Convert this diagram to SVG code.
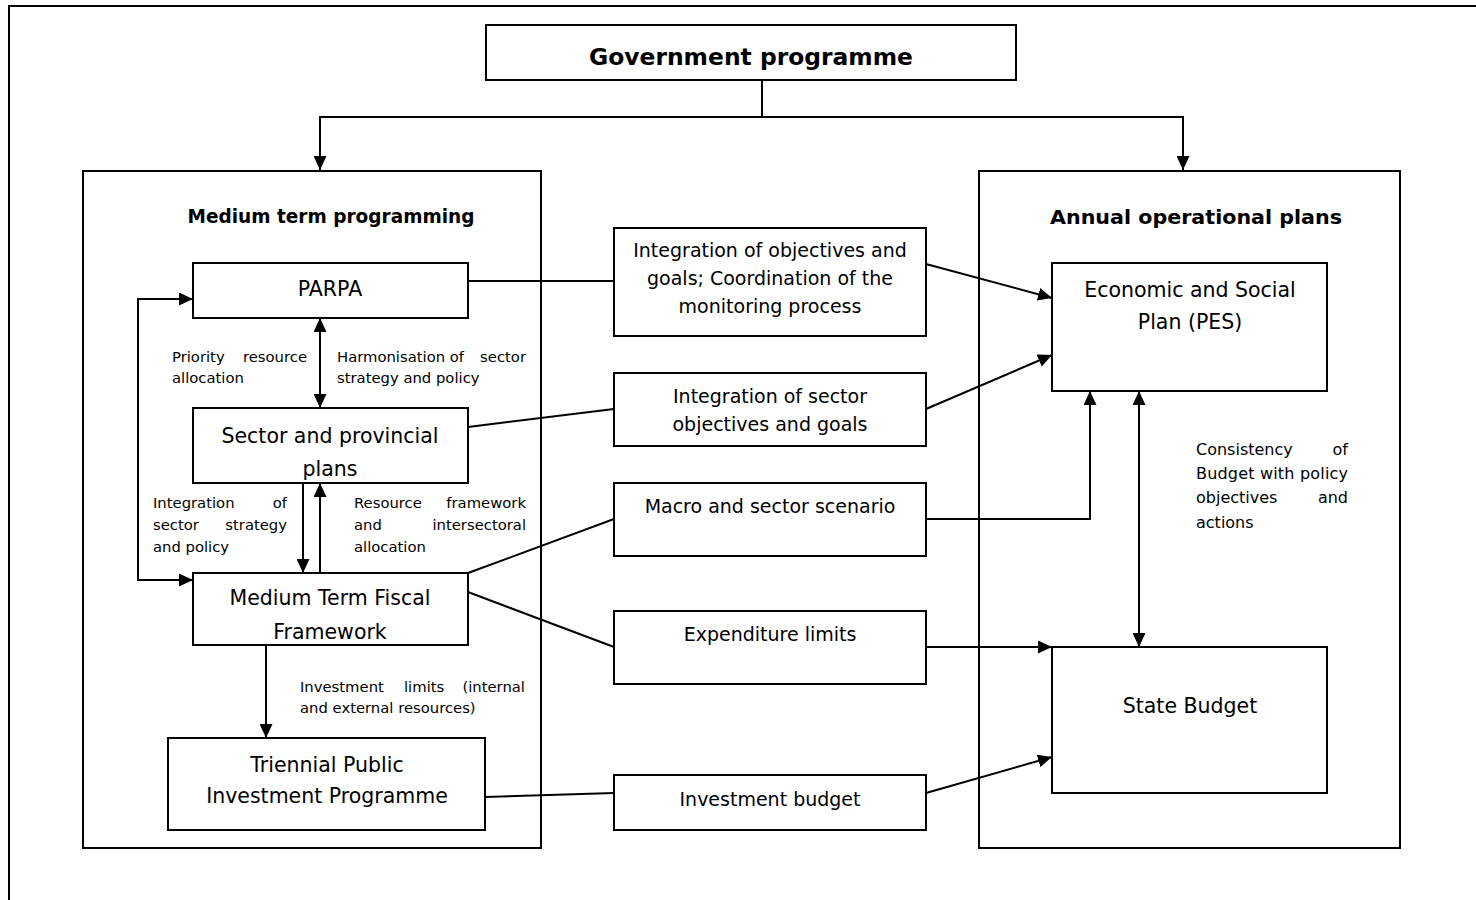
<svg xmlns="http://www.w3.org/2000/svg" width="1476" height="900" viewBox="0 0 1476 900">
<style>
.b{fill:#fff;stroke:#000;stroke-width:2}
.k{fill:none;stroke:#000;stroke-width:2}
.c{fill:none;stroke:#000;stroke-width:2}
.a{marker-end:url(#ah)}
.d{marker-start:url(#ah);marker-end:url(#ah)}
text{font-family:"DejaVu Sans","Liberation Sans",sans-serif;fill:#000}
.t{font-size:20.5px;text-anchor:middle}
.m{font-size:19px;text-anchor:middle}
.s{font-size:14.8px}
.r{font-size:16px}
.h{font-weight:bold;text-anchor:middle}
</style>
<defs>
<marker id="ah" markerUnits="userSpaceOnUse" markerWidth="14" markerHeight="13" refX="14" refY="6.5" orient="auto-start-reverse" viewBox="0 0 14 13">
<path d="M0,0 L14,6.5 L0,13 z" fill="#000"/>
</marker>
<clipPath id="clipSector"><rect x="194" y="409" width="273" height="72"/></clipPath>
</defs>
<rect width="1476" height="900" fill="#fff"/>
<path class="k" d="M9,900 V6 H1476"/>
<g id="medium-term">
<rect class="k" x="83" y="171" width="458" height="677"/>
<text class="h" x="331" y="223" font-size="19" textLength="287" lengthAdjust="spacingAndGlyphs">Medium term programming</text>
</g>
<g id="annual-plans">
<rect class="k" x="979" y="171" width="421" height="677"/>
<text class="h" x="1196" y="224" font-size="19" textLength="292" lengthAdjust="spacingAndGlyphs">Annual operational plans</text>
</g>
<g id="connectors">
<path class="c a" d="M762,80 V117 H320 V170"/>
<path class="c a" d="M762,117 H1183 V170"/>
<path class="c d" d="M193,299 H138 V580 H193"/>
<path class="c d" d="M320,318 V408"/>
<path class="c a" d="M303,483 V573"/>
<path class="c a" d="M320,573 V483"/>
<path class="c a" d="M266,645 V738"/>
<path class="c" d="M468,281 H614"/>
<path class="c a" d="M926,264 L1052,298"/>
<path class="c" d="M468,427 L614,409"/>
<path class="c a" d="M926,409 L1052,355"/>
<path class="c" d="M468,573 L614,519"/>
<path class="c a" d="M926,519 H1090 V391"/>
<path class="c" d="M468,592 L614,647"/>
<path class="c a" d="M926,647 H1052"/>
<path class="c" d="M485,797 L614,793"/>
<path class="c a" d="M926,793 L1052,757"/>
<path class="c d" d="M1139,391 V647"/>
<text class="s" y="362"><tspan x="172">Priority</tspan> <tspan x="307" text-anchor="end">resource</tspan></text>
<text class="s" x="172" y="383">allocation</text>
<text class="s" y="362"><tspan x="337">Harmonisation of</tspan> <tspan x="526" text-anchor="end">sector</tspan></text>
<text class="s" x="337" y="383">strategy and policy</text>
<text class="s" y="508"><tspan x="153">Integration</tspan> <tspan x="287" text-anchor="end">of</tspan></text>
<text class="s" y="530"><tspan x="153">sector</tspan> <tspan x="287" text-anchor="end">strategy</tspan></text>
<text class="s" x="153" y="552">and policy</text>
<text class="s" y="508"><tspan x="354">Resource</tspan> <tspan x="526" text-anchor="end">framework</tspan></text>
<text class="s" y="530"><tspan x="354">and</tspan> <tspan x="526" text-anchor="end">intersectoral</tspan></text>
<text class="s" x="354" y="552">allocation</text>
<text class="s" y="692"><tspan x="300">Investment</tspan> <tspan x="404">limits</tspan> <tspan x="525" text-anchor="end">(internal</tspan></text>
<text class="s" x="300" y="713">and external resources)</text>
<text class="r" y="455"><tspan x="1196">Consistency</tspan> <tspan x="1348" text-anchor="end">of</tspan></text>
<text class="r" x="1196" y="479" textLength="152" lengthAdjust="spacing">Budget with policy</text>
<text class="r" y="503"><tspan x="1196">objectives</tspan> <tspan x="1348" text-anchor="end">and</tspan></text>
<text class="r" x="1196" y="528">actions</text>
</g>
<g id="government-programme">
<rect class="b" x="486" y="25" width="530" height="55"/>
<text class="h" x="751" y="65" font-size="23" textLength="324" lengthAdjust="spacingAndGlyphs">Government programme</text>
</g>
<g id="parpa">
<rect class="b" x="193" y="263" width="275" height="55"/>
<text class="t" x="330" y="296">PARPA</text>
</g>
<g id="sector-plans">
<rect class="b" x="193" y="408" width="275" height="75"/>
<g clip-path="url(#clipSector)">
<text class="t" x="330" y="443">Sector and provincial</text>
<text class="t" x="330" y="476">plans</text>
</g>
</g>
<g id="mtff">
<rect class="b" x="193" y="573" width="275" height="72"/>
<text class="t" x="330" y="605">Medium Term Fiscal</text>
<text class="t" x="330" y="639">Framework</text>
</g>
<g id="triennial">
<rect class="b" x="168" y="738" width="317" height="92"/>
<text class="t" x="327" y="772">Triennial Public</text>
<text class="t" x="327" y="803">Investment Programme</text>
</g>
<g id="integration-objectives">
<rect class="b" x="614" y="228" width="312" height="108"/>
<text class="m" x="770" y="257">Integration of objectives and</text>
<text class="m" x="770" y="285">goals; Coordination of the</text>
<text class="m" x="770" y="313">monitoring process</text>
</g>
<g id="integration-sector">
<rect class="b" x="614" y="373" width="312" height="73"/>
<text class="m" x="770" y="403">Integration of sector</text>
<text class="m" x="770" y="431">objectives and goals</text>
</g>
<g id="macro-scenario">
<rect class="b" x="614" y="483" width="312" height="73"/>
<text class="m" x="770" y="513">Macro and sector scenario</text>
</g>
<g id="expenditure-limits">
<rect class="b" x="614" y="611" width="312" height="73"/>
<text class="m" x="770" y="641">Expenditure limits</text>
</g>
<g id="investment-budget">
<rect class="b" x="614" y="775" width="312" height="55"/>
<text class="m" x="770" y="806">Investment budget</text>
</g>
<g id="pes">
<rect class="b" x="1052" y="263" width="275" height="128"/>
<text class="t" x="1190" y="297">Economic and Social</text>
<text class="t" x="1190" y="329">Plan (PES)</text>
</g>
<g id="state-budget">
<rect class="b" x="1052" y="647" width="275" height="146"/>
<text class="t" x="1190" y="713">State Budget</text>
</g>
</svg>
